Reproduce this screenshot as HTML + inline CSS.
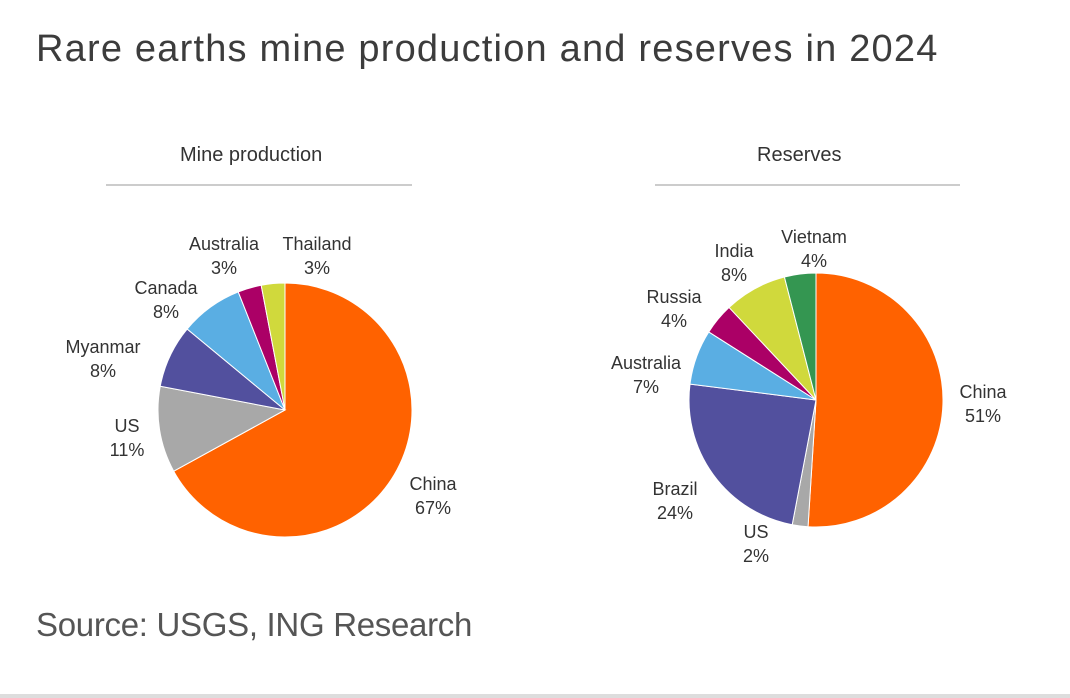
<!DOCTYPE html>
<html><head><meta charset="utf-8"><style>
body{margin:0;width:1070px;height:698px;background:#fff;overflow:hidden;font-family:"Liberation Sans",sans-serif;position:relative}
.t{position:absolute;color:#333;white-space:nowrap}
</style></head><body>
<div class="t" style="left:36px;top:28px;font-size:38px;color:#3c3c3c;letter-spacing:1.2px">Rare earths mine production and reserves in 2024</div>
<div class="t" style="left:180px;top:144px;font-size:20px">Mine production</div>
<div class="t" style="left:757px;top:144px;font-size:20px">Reserves</div>
<div style="position:absolute;left:106px;top:184px;width:306px;height:2px;background:#ccc"></div>
<div style="position:absolute;left:655px;top:184px;width:305px;height:2px;background:#ccc"></div>
<div class="t" style="left:36px;top:606px;font-size:33px;color:#555;letter-spacing:-0.3px">Source: USGS, ING Research</div>
<div style="position:absolute;left:0;top:694px;width:1070px;height:4px;background:#ddd"></div>
<svg id="s" width="1070" height="698" style="position:absolute;left:0;top:0" font-family="Liberation Sans, sans-serif" font-size="18" fill="#333" text-anchor="middle"></svg>
<script>
const s=document.getElementById('s');let h='';
function pie(cx,cy,r,d){let a=0;for(const [v,c] of d){const a1=a+v/100*2*Math.PI;
const x0=cx+r*Math.sin(a),y0=cy-r*Math.cos(a),x1=cx+r*Math.sin(a1),y1=cy-r*Math.cos(a1);
h+=`<path d="M${cx},${cy}L${x0},${y0}A${r},${r} 0 ${v>50?1:0} 1 ${x1},${y1}Z" fill="${c}" stroke="#fff" stroke-width="1"/>`;a=a1;}}
pie(285,410,127,[[67,'#ff6200'],[11,'#a8a8a8'],[8,'#52509e'],[8,'#5aaee3'],[3,'#ab0066'],[3,'#d0d93c']]);
pie(816,400,127,[[51,'#ff6200'],[2,'#a8a8a8'],[24,'#52509e'],[7,'#5aaee3'],[4,'#ab0066'],[8,'#d0d93c'],[4,'#349651']]);
const L=[[224,250,'Australia','3%'],[317,250,'Thailand','3%'],[166,294,'Canada','8%'],[103,353,'Myanmar','8%'],[127,432,'US','11%'],[433,490,'China','67%'],
[814,243,'Vietnam','4%'],[734,257,'India','8%'],[674,303,'Russia','4%'],[646,369,'Australia','7%'],[983,398,'China','51%'],[675,495,'Brazil','24%'],[756,538,'US','2%']];
for(const [x,y,a,b] of L)h+=`<text x="${x}" y="${y}">${a}</text><text x="${x}" y="${y+24}">${b}</text>`;
s.innerHTML=h;
</script>
</body></html>
